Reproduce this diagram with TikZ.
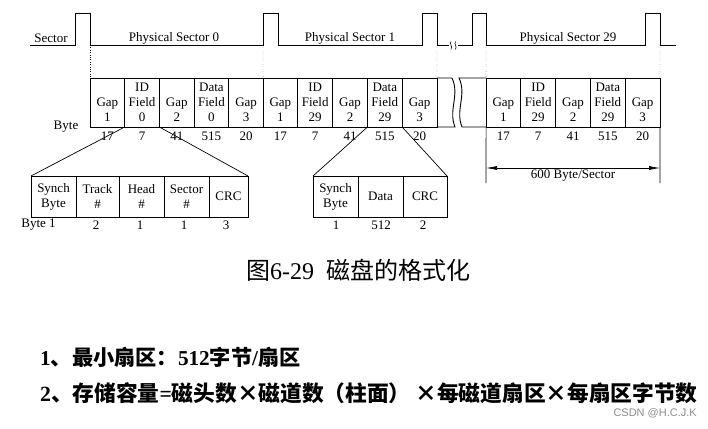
\documentclass[tikz,border=0pt]{standalone}
\usepackage{fontspec}
\setmainfont{Liberation Serif}
\newfontfamily\cjk{Noto Sans CJK SC}
\newfontfamily\wmfont{Liberation Sans}
\usetikzlibrary{arrows.meta}

\tikzset{
  field/.style={draw, line width=0.9pt, rectangle, inner sep=0pt, outer sep=0pt,
    minimum width=34.7pt, minimum height=49pt, align=center,
    font=\fontsize{13}{15}\selectfont},
  subfield/.style={field, minimum height=41pt},
  num/.style={inner sep=0pt, font=\fontsize{13}{15}\selectfont},
  sig/.style={line width=0.7pt},
}

\begin{document}
\begin{tikzpicture}[x=1pt,y=-1pt]
    \useasboundingbox (0,0) rectangle (708,428);

    % sector pulses
    \draw[sig] (30,45) -- (75,45) -- (75,13) -- (90,13) -- (90,45) coordinate (e0)
        -- (263,45) coordinate (e1) -- (263,13) -- (278,13) -- (278,45)
        -- (422,45) -- (422,13) -- (437,13) -- (437,45) coordinate (e2) -- (449,45);
    \draw[sig] (458,45) -- (472,45) -- (472,13) -- (486,13) -- (486,45) coordinate (e3)
        -- (645,45) -- (645,13) -- (660,13) -- (660,45) coordinate (e4) -- (676,45);
    \draw[line width=0.6pt] (451,41.5) .. controls (449,44) and (453,46) .. (451,49.5);
    \draw[line width=0.6pt] (455.5,41.5) .. controls (453.5,44) and (457.5,46) .. (455.5,49.5);

    \node[num] (lsec) at (51,38) {Sector};
    \node[num] (lps0) at (174,38) {Physical Sector 0};
    \node[num] (lps1) at (350,38) {Physical Sector 1};
    \node[num] (lps29) at (568,38) {Physical Sector 29};

    % fields of each sector
    \foreach \txt/\n [count=\i] in {{\phantom{G}\\Gap\\1}/17, {ID\\Field\\0}/7,
        {\phantom{G}\\Gap\\2}/41, {Data\\Field\\0}/515, {\phantom{G}\\Gap\\3}/20} {
        \node[field] (f0-\i) at ({90+34.7*(\i-0.5)},102.5) {\txt};
        \node[num] (n0-\i) at ({90+34.7*(\i-0.5)},136) {\n};
    }
    \foreach \txt/\n [count=\i] in {{\phantom{G}\\Gap\\1}/17, {ID\\Field\\29}/7,
        {\phantom{G}\\Gap\\2}/41, {Data\\Field\\29}/515, {\phantom{G}\\Gap\\3}/20} {
        \node[field] (f1-\i) at ({263+34.8*(\i-0.5)},102.5) {\txt};
        \node[num] (n1-\i) at ({263+34.8*(\i-0.5)},136) {\n};
        \node[field] (f29-\i) at ({486+34.8*(\i-0.5)},102.5) {\txt};
        \node[num] (n29-\i) at ({486+34.8*(\i-0.5)},136) {\n};
    }
    \node[num] (lbyte) at (66,127) {Byte};

    % broken part
    \draw[line width=0.9pt] (f1-5.north east) -- (452,78) .. controls (460,95) and (448,110) .. (455,127) -- (f1-5.south east);
    \draw[line width=0.9pt] (f29-1.north west) -- (459,78) .. controls (467,95) and (455,110) .. (462,127) -- (f29-1.south west);

    \draw[dotted] (e0) -- (f0-1.north west);
    \draw[dotted] (e1) -- (f1-1.north west);
    \draw[dotted] (e2) -- (f1-5.north east);
    \draw[dotted] (e3) -- (f29-1.north west);
    \draw[dotted] (e4) -- (f29-5.north east);

    % ID field
    \node[subfield, minimum width=45pt] (id1) at (53.5,196.5) {Synch\\Byte};
    \node[subfield, minimum width=43pt] (id2) at (97.5,196.5) {Track\\\#};
    \node[subfield, minimum width=45pt] (id3) at (141.5,196.5) {Head\\\#};
    \node[subfield, minimum width=45pt] (id4) at (186.5,196.5) {Sector\\\#};
    \node[subfield, minimum width=39pt] (id5) at (228.5,196.5) {CRC};
    \node[num] (idn1) at (38.5,225) {Byte 1};
    \node[num] (idn2) at (96,225) {2};
    \node[num] (idn3) at (140,225) {1};
    \node[num] (idn4) at (184,225) {1};
    \node[num] (idn5) at (226,225) {3};
    \draw[line width=0.7pt] (f0-2.south west) -- (id1.north west);
    \draw[line width=0.7pt] (f0-2.south east) -- (id5.north east);

    % data field
    \node[subfield, minimum width=45pt] (dt1) at (335.5,196.5) {Synch\\Byte};
    \node[subfield, minimum width=45pt] (dt2) at (380.5,196.5) {Data};
    \node[subfield, minimum width=44pt] (dt3) at (425,196.5) {CRC};
    \node[num] (dtn1) at (336,225) {1};
    \node[num] (dtn2) at (381,225) {512};
    \node[num] (dtn3) at (423,225) {2};
    \draw[line width=0.7pt] (f1-4.south west) -- (dt1.north west);
    \draw[line width=0.7pt] (f1-4.south east) -- (dt3.north east);

    % sector length
    \coordinate (dimL) at (486,183);
    \coordinate (dimR) at (660,183);
    \coordinate (arrL) at (486,168);
    \coordinate (arrR) at (660,168);
    \draw[line width=0.6pt] (f29-1.south west) -- (dimL);
    \draw[line width=0.6pt] (f29-5.south east) -- (dimR);
    \draw[line width=0.6pt, {Latex[length=11pt,width=4pt]}-{Latex[length=11pt,width=4pt]}] (arrL) -- (arrR)
        node[midway, below=1.5pt, num] (ldim) {600 Byte/Sector};

    % caption and notes
    \node[font=\fontsize{24}{28}\selectfont] (title) at (358,270) {{\cjk 图}6-29\ \ {\cjk 磁盘的格式化}};
    \node[anchor=west, font=\fontsize{21.2}{25}\selectfont\bfseries, inner sep=0pt] (rule1) at (40,357)
        {1{\cjk 、最小扇区：}512{\cjk 字节}/{\cjk 扇区}};
    \node[anchor=west, font=\fontsize{21.7}{25}\selectfont\bfseries, inner sep=0pt] (rule2) at (40,393)
        {2{\cjk 、存储容量}={\cjk 磁头数×磁道数（柱面） ×每磁道扇区×每扇区字节数}};
    \node[anchor=east, font=\wmfont\fontsize{11}{13}\selectfont, text=black!45, inner sep=0pt] (wm) at (697,413) {CSDN @H.C.J.K};
\end{tikzpicture}
\end{document}
